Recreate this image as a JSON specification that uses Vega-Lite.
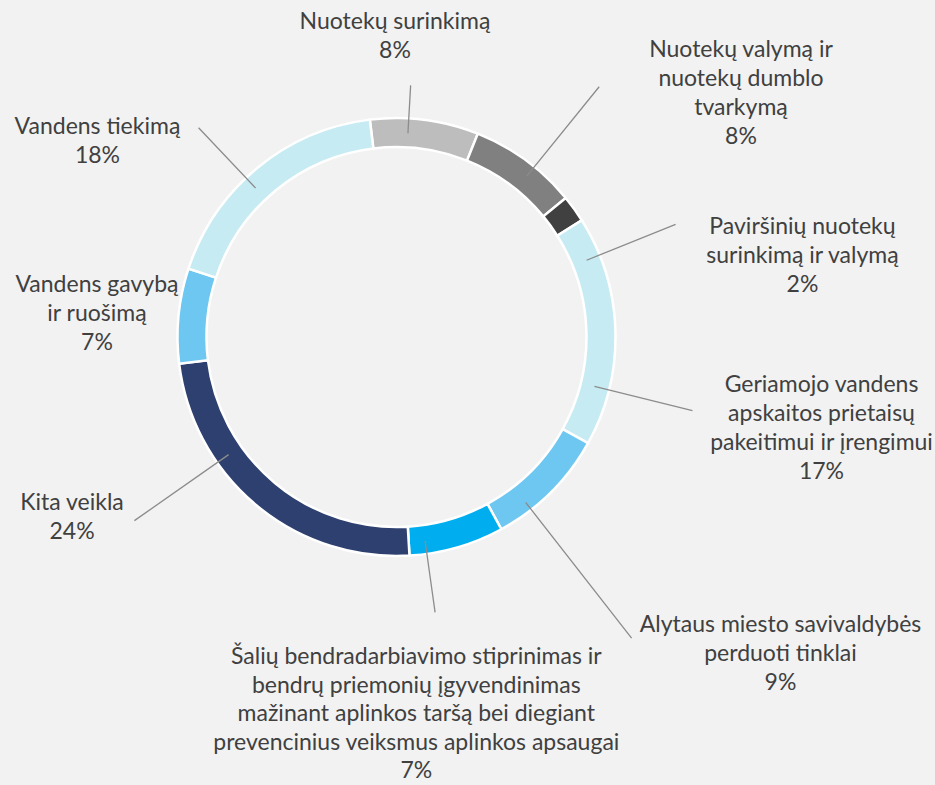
{
  "$schema": "https://vega.github.io/schema/vega-lite/v6.json",
  "autosize": {"type": "none"},
  "width": 793,
  "height": 674,
  "padding": {"left": 0, "top": 0, "right": 142, "bottom": 111},
  "background": "#F2F2F2",
  "config": {
    "view": {"stroke": null},
    "text": {"font": "Lato", "fontSize": 23, "color": "#404040", "lineBreak": "\n", "lineHeight": 29, "align": "center", "baseline": "middle"}
  },
  "data": {
    "values": [
      {"idx": 1, "cat": "Nuotekų surinkimą", "value": 8, "label": "Nuotekų surinkimą\n8%"},
      {"idx": 2, "cat": "Nuotekų valymą ir nuotekų dumblo tvarkymą", "value": 8, "label": "Nuotekų valymą ir\nnuotekų dumblo\ntvarkymą\n8%"},
      {"idx": 3, "cat": "Paviršinių nuotekų surinkimą ir valymą", "value": 2, "label": "Paviršinių nuotekų\nsurinkimą ir valymą\n2%"},
      {"idx": 4, "cat": "Geriamojo vandens apskaitos prietaisų pakeitimui ir įrengimui", "value": 17, "label": "Geriamojo vandens\napskaitos prietaisų\npakeitimui ir įrengimui\n17%"},
      {"idx": 5, "cat": "Alytaus miesto savivaldybės perduoti tinklai", "value": 9, "label": "Alytaus miesto savivaldybės\nperduoti tinklai\n9%"},
      {"idx": 6, "cat": "Šalių bendradarbiavimo stiprinimas", "value": 7, "label": "Šalių bendradarbiavimo stiprinimas ir\nbendrų priemonių įgyvendinimas\nmažinant aplinkos taršą bei diegiant\nprevencinius veiksmus aplinkos apsaugai\n7%"},
      {"idx": 7, "cat": "Kita veikla", "value": 24, "label": "Kita veikla\n24%"},
      {"idx": 8, "cat": "Vandens gavybą ir ruošimą", "value": 7, "label": "Vandens gavybą\nir ruošimą\n7%"},
      {"idx": 9, "cat": "Vandens tiekimą", "value": 18, "label": "Vandens tiekimą\n18%"}
    ]
  },
  "encoding": {
    "theta": {"field": "value", "type": "quantitative", "stack": true, "scale": {"domain": [0, 100], "range": [-0.1222, 6.161]}},
    "order": {"field": "idx", "type": "quantitative"},
    "detail": {"field": "cat", "type": "nominal"}
  },
  "layer": [
    {
      "mark": {"type": "arc", "innerRadius": 190, "outerRadius": 219, "stroke": "#FFFFFF", "strokeWidth": 2.5},
      "encoding": {
        "color": {
          "field": "idx", "type": "nominal", "legend": null,
          "scale": {"domain": [1, 2, 3, 4, 5, 6, 7, 8, 9], "range": ["#BDBDBD", "#808080", "#404040", "#C6EBF3", "#6DC7F0", "#00AEEF", "#2D4070", "#6DC7F0", "#C6EBF3"]}
        }
      }
    },
    {"mark": {"type": "arc", "radius": 252, "radius2": 204, "padAngle": 3.2, "thetaOffset": -0.073, "theta2Offset": -0.073, "filled": false, "stroke": "#8C8C8C", "strokeWidth": 1.3}, "encoding": {"strokeOpacity": {"condition": {"test": "datum.idx === 1", "value": 1}, "value": 0}}},
    {"mark": {"type": "arc", "radius": 322, "radius2": 207, "padAngle": 3.2, "thetaOffset": 0.049, "theta2Offset": 0.049, "filled": false, "stroke": "#8C8C8C", "strokeWidth": 1.3}, "encoding": {"strokeOpacity": {"condition": {"test": "datum.idx === 2", "value": 1}, "value": 0}}},
    {"mark": {"type": "arc", "radius": 301, "radius2": 205, "padAngle": 3.2, "thetaOffset": 0.241, "theta2Offset": 0.241, "filled": false, "stroke": "#8C8C8C", "strokeWidth": 1.3}, "encoding": {"strokeOpacity": {"condition": {"test": "datum.idx === 3", "value": 1}, "value": 0}}},
    {"mark": {"type": "arc", "radius": 305, "radius2": 204, "padAngle": 3.2, "thetaOffset": 0.272, "theta2Offset": 0.272, "filled": false, "stroke": "#8C8C8C", "strokeWidth": 1.3}, "encoding": {"strokeOpacity": {"condition": {"test": "datum.idx === 4", "value": 1}, "value": 0}}},
    {"mark": {"type": "arc", "radius": 382, "radius2": 210, "padAngle": 3.2, "thetaOffset": 0.119, "theta2Offset": 0.119, "filled": false, "stroke": "#8C8C8C", "strokeWidth": 1.3}, "encoding": {"strokeOpacity": {"condition": {"test": "datum.idx === 5", "value": 1}, "value": 0}}},
    {"mark": {"type": "arc", "radius": 278, "radius2": 206, "padAngle": 3.2, "thetaOffset": 0.14, "theta2Offset": 0.14, "filled": false, "stroke": "#8C8C8C", "strokeWidth": 1.3}, "encoding": {"strokeOpacity": {"condition": {"test": "datum.idx === 6", "value": 1}, "value": 0}}},
    {"mark": {"type": "arc", "radius": 320, "radius2": 205, "padAngle": 3.2, "thetaOffset": 0.265, "theta2Offset": 0.265, "filled": false, "stroke": "#8C8C8C", "strokeWidth": 1.3}, "encoding": {"strokeOpacity": {"condition": {"test": "datum.idx === 7", "value": 1}, "value": 0}}},
    {"mark": {"type": "arc", "radius": 288, "radius2": 205, "padAngle": 3.2, "thetaOffset": -0.07, "theta2Offset": -0.07, "filled": false, "stroke": "#8C8C8C", "strokeWidth": 1.3}, "encoding": {"strokeOpacity": {"condition": {"test": "datum.idx === 9", "value": 1}, "value": 0}}},
    {"mark": {"type": "text", "radius": 315, "thetaOffset": -0.1339}, "encoding": {"text": {"condition": {"test": "datum.idx === 1", "field": "label"}, "value": ""}}},
    {"mark": {"type": "text", "radius": 448.4, "thetaOffset": 0.2443}, "encoding": {"text": {"condition": {"test": "datum.idx === 2", "field": "label"}, "value": ""}}},
    {"mark": {"type": "text", "radius": 420.6, "thetaOffset": 0.3602}, "encoding": {"text": {"condition": {"test": "datum.idx === 3", "field": "label"}, "value": ""}}},
    {"mark": {"type": "text", "radius": 427.7, "thetaOffset": 0.1403}, "encoding": {"text": {"condition": {"test": "datum.idx === 4", "field": "label"}, "value": ""}}},
    {"mark": {"type": "text", "radius": 480, "thetaOffset": -0.1454}, "encoding": {"text": {"condition": {"test": "datum.idx === 5", "field": "label"}, "value": ""}}},
    {"mark": {"type": "text", "radius": 321, "thetaOffset": 0.2175, "lineHeight": 28.5}, "encoding": {"text": {"condition": {"test": "datum.idx === 6", "field": "label"}, "value": ""}}},
    {"mark": {"type": "text", "radius": 364.5, "thetaOffset": 0.4032}, "encoding": {"text": {"condition": {"test": "datum.idx === 7", "field": "label"}, "value": ""}}},
    {"mark": {"type": "text", "radius": 304, "thetaOffset": 0.0742}, "encoding": {"text": {"condition": {"test": "datum.idx === 8", "field": "label"}, "value": ""}}},
    {"mark": {"type": "text", "radius": 365.4, "thetaOffset": -0.2709}, "encoding": {"text": {"condition": {"test": "datum.idx === 9", "field": "label"}, "value": ""}}}
  ]
}
